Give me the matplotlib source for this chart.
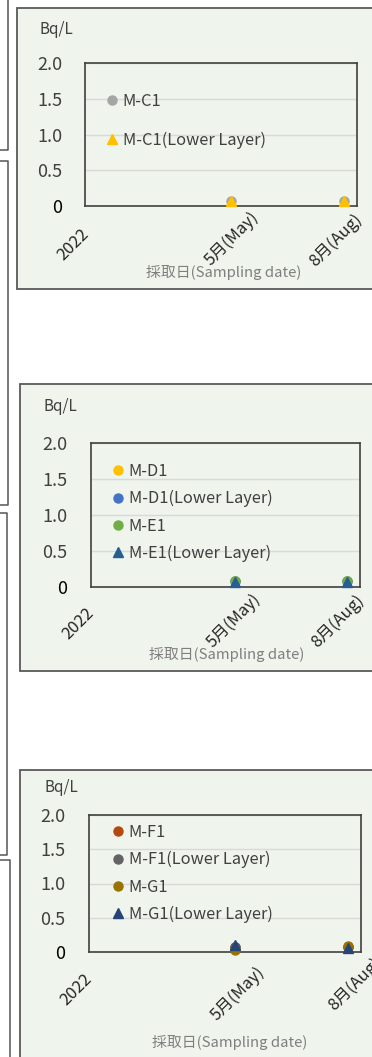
import matplotlib
matplotlib.use("Agg")
from matplotlib import pyplot as plt
from matplotlib.lines import Line2D
from matplotlib.patches import Rectangle
from matplotlib.transforms import offset_copy

plt.rcParams['font.family'] = ['Noto Sans CJK JP', 'DejaVu Sans']

W, H = 372, 1057
BG = '#EFF4EC'

# sampling days counted from 2022-01-01
sample_days = [133, 236]
x_max = 248
tick_days = [0, 133, 236]
tick_labels = ['2022', '5月(May)', '8月(Aug)']
y_ticks = [0, 0.5, 1.0, 1.5, 2.0]
y_labels = ['0', '0.5', '1.0', '1.5', '2.0']

names_c = ['M-C1', 'M-C1(Lower Layer)']
values_c = [[0.07, 0.07], [0.07, 0.07]]
colors_c = ['#A5A5A5', '#FFC000']
markers_c = ['o', '^']

names_de = ['M-D1', 'M-D1(Lower Layer)', 'M-E1', 'M-E1(Lower Layer)']
values_de = [[0.08, 0.08], [0.08, 0.08], [0.08, 0.08], [0.07, 0.07]]
colors_de = ['#FFC000', '#4472C4', '#70AD47', '#255E91']
markers_de = ['o', 'o', 'o', '^']

names_fg = ['M-F1', 'M-F1(Lower Layer)', 'M-G1', 'M-G1(Lower Layer)']
values_fg = [[0.08, 0.08], [0.08, 0.08], [0.03, 0.09], [0.10, 0.06]]
colors_fg = ['#B4490F', '#636363', '#997300', '#264478']
markers_fg = ['o', 'o', 'o', '^']


def fx(x):
    return x / W


def fy(y):
    return 1 - y / H


fig = plt.figure(figsize=(W / 100, H / 100), dpi=100)
fig.patch.set_facecolor('white')

# edges of the neighbouring panels on the left
edge_paths = [
    ([8, 8, 0], [0, 150, 150]),
    ([0, 8, 8, 0], [161, 161, 505, 505]),
    ([0, 7, 7, 0], [513, 513, 855, 855]),
    ([0, 10, 10], [860, 860, H + 5]),
]
for xs, ys in edge_paths:
    fig.add_artist(Line2D([fx(v) for v in xs], [fy(v) for v in ys],
                          transform=fig.transFigure, color='#555555', lw=1.1))


def panel(box, area, names, values, colors, markers, legend_at, spacing,
          label_shift, unit_at, xlabel_at, ypad):
    left, top, bottom = box
    fig.add_artist(Rectangle((fx(left), fy(bottom)), fx(W + 10) - fx(left),
                             fy(top) - fy(bottom), transform=fig.transFigure,
                             facecolor=BG, edgecolor='#595959', lw=1.3, zorder=0))
    l, r, t, b = area
    ax = fig.add_axes([fx(l), fy(b), fx(r) - fx(l), fy(t) - fy(b)])
    ax.set_facecolor('none')

    handles = []
    for name, vals, c, m in zip(names, values, colors, markers):
        h, = ax.plot(sample_days, vals, linestyle='none', marker=m, ms=6.5,
                     color=c, label=name, clip_on=False, zorder=3)
        handles.append(h)

    ax.set_xlim(0, x_max)
    ax.set_ylim(0, 2.0)
    ax.set_xticks([])
    ax.set_yticks(y_ticks, y_labels)
    ax.tick_params(axis='y', length=0, pad=ypad, labelsize=13, labelcolor='#404040')
    ax.get_yticklabels()[0].set_color('black')
    ax.yaxis.grid(True, color='#D9D9D9', lw=1)
    ax.set_axisbelow(True)
    for s in ax.spines.values():
        s.set_color('#404040')
        s.set_linewidth(1.2)

    for d, lab, (dx, dy) in zip(tick_days, tick_labels, label_shift):
        tr = offset_copy(ax.get_xaxis_transform(), fig=fig, x=dx, y=dy, units='dots')
        ax.text(d, 0, lab, transform=tr, rotation=45, ha='right', va='center',
                rotation_mode='anchor', fontsize=12, color='#262626')

    ax.legend(handles=handles, loc='upper left', bbox_to_anchor=(fx(legend_at[0]), fy(legend_at[1])),
              bbox_transform=fig.transFigure, frameon=False, fontsize=11.8,
              handlelength=0.6, handletextpad=0.35, borderpad=0, borderaxespad=0,
              labelspacing=spacing, labelcolor='#404040')

    fig.text(fx(unit_at[0]), fy(unit_at[1]), 'Bq/L', ha='center', va='center',
             fontsize=11, color='#404040')
    fig.text(fx(xlabel_at[0]), fy(xlabel_at[1]), '採取日(Sampling date)', ha='center',
             va='center', fontsize=10.7, color='#7F7F7F')
    return ax


panel((17, 8, 289), (85, 357, 63, 206), names_c, values_c, colors_c, markers_c,
      (107, 93), 1.3, [(1, -26), (25, -8), (16, -11)], (56, 29), (224, 272), 16.5)

panel((20, 384, 671), (91, 360, 443, 587), names_de, values_de, colors_de, markers_de,
      (113, 463), 0.62, [(0, -24), (23, -9), (14, -11)], (60, 407), (227, 655), 17)

panel((20, 770, H + 10), (89, 361, 815, 952), names_fg, values_fg, colors_fg, markers_fg,
      (113, 824), 0.62, [(0, -25), (27, -17), (31, -9)], (61, 787), (230, 1042), 17)

fig.savefig('out.png', dpi=100)
